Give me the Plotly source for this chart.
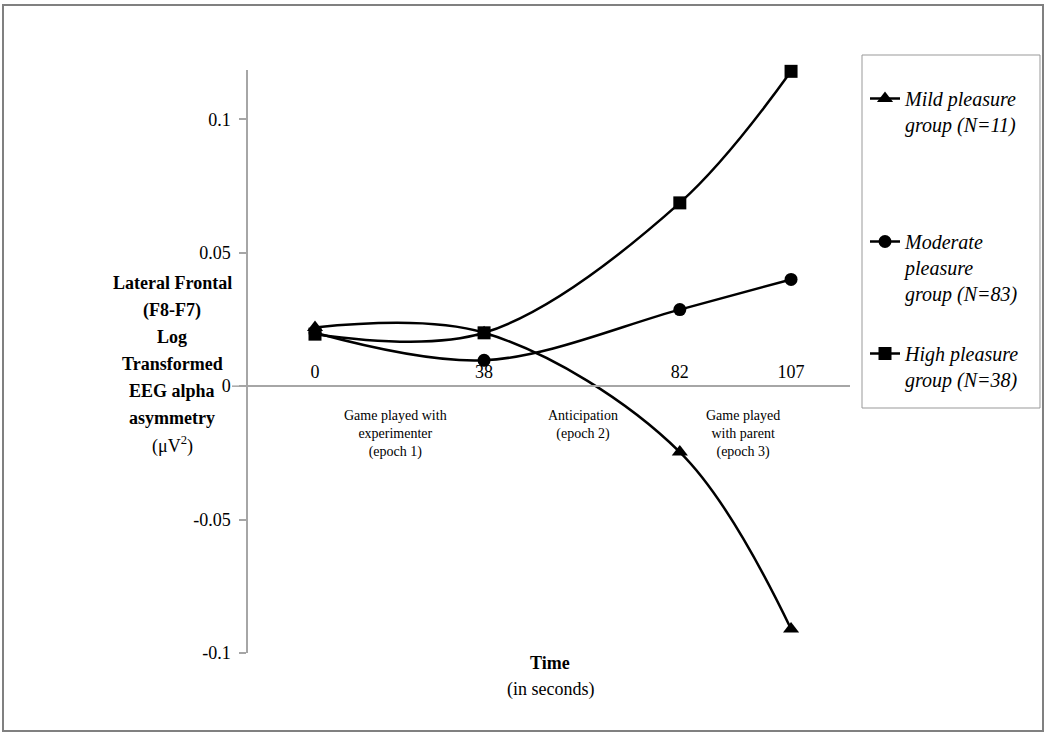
import plotly.graph_objects as go

# ---- data ----
times = [0, 38, 82, 107]
mild = [0.022, 0.020, -0.0247, -0.091]
moderate = [0.020, 0.0097, 0.0287, 0.040]
high = [0.0195, 0.020, 0.0687, 0.118]
series_names = ["Mild pleasure<br>group (N=11)",
                "Moderate<br>pleasure<br>group (N=83)",
                "High pleasure<br>group (N=38)"]
y_tickvals = [-0.1, -0.05, 0, 0.05, 0.1]
y_ticktext = ["-0.1", "-0.05", "0", "0.05", "0.1"]
epoch_labels = ["Game played with<br>experimenter<br>(epoch 1)",
                "Anticipation<br>(epoch 2)",
                "Game played<br>with parent<br>(epoch 3)"]
y_title_lines = ["<b>Lateral Frontal</b>", "<b>(F8-F7)</b>", "<b>Log</b>",
                 "<b>Transformed</b>", "<b>EEG alpha</b>", "<b>asymmetry</b>",
                 "(\u03bcV<sup>2</sup>)"]

FONT = "Liberation Serif"
W, H = 1050, 735
L, R, T, B = 248, 850, 70, 653  # plot area in pixels
Y_RANGE = [-0.1, 0.1185]


def px(xp):
    return (xp - L) / (R - L)


def py(yp):
    return (B - yp) / (B - T)


fig = go.Figure()
symbols = ["triangle-up", "circle", "square"]
sizes = [14, 13, 13]
legends = ["legend", "legend2", "legend3"]
for vals, name, sym, sz, lg in zip([mild, moderate, high], series_names, symbols, sizes, legends):
    fig.add_trace(go.Scatter(
        x=times, y=vals, name=name, mode="lines+markers",
        line=dict(color="black", width=2.5, shape="spline", smoothing=1),
        marker=dict(symbol=sym, size=sz, color="black"),
        cliponaxis=False, legend=lg))

leg_font = dict(family=FONT, size=20, color="black", style="italic")
leg_common = dict(xanchor="left", yanchor="top", bgcolor="rgba(0,0,0,0)",
                  borderwidth=0, valign="top", font=leg_font)
fig.update_layout(
    legend=dict(x=px(865), y=py(79), **leg_common),
    legend2=dict(x=px(865), y=py(222), **leg_common),
    legend3=dict(x=px(865), y=py(334), **leg_common),
)

fig.update_layout(
    width=W, height=H,
    margin=dict(l=L, r=W - R, t=T, b=H - B, pad=0),
    paper_bgcolor="white", plot_bgcolor="white",
    font=dict(family=FONT, size=18, color="black"),
    showlegend=True,
    xaxis=dict(range=[-15.06, 120.25], tickvals=times, ticktext=[str(t) for t in times],
               showgrid=False, zeroline=False, showline=True, linecolor="#a6a6a6", linewidth=1.5,
               ticks="", side="top", anchor="free", position=py(386),
               tickfont=dict(family=FONT, size=18, color="black")),
    yaxis=dict(range=Y_RANGE, tickvals=y_tickvals, ticktext=y_ticktext,
               showgrid=False, zeroline=False, showline=True, linecolor="#a6a6a6", linewidth=1.5,
               ticks="outside", ticklen=7, tickcolor="#a6a6a6", tickwidth=1.5,
               ticklabelstandoff=5,
               tickfont=dict(family=FONT, size=18, color="black")),
)

shapes = []
# x-axis line extension left of y-axis
shapes.append(dict(type="line", xref="paper", yref="y", x0=px(232), x1=0, y0=0, y1=0,
                   line=dict(color="#a6a6a6", width=1.5)))
# legend box
shapes.append(dict(type="rect", xref="paper", yref="paper", x0=px(862), x1=px(1040),
                   y0=py(408), y1=py(55), line=dict(color="#999999", width=1)))
# outer frame
shapes.append(dict(type="rect", xref="paper", yref="paper", x0=px(3), x1=px(1043),
                   y0=py(731), y1=py(5), line=dict(color="#808080", width=2)))
fig.update_layout(shapes=shapes)

ann = []
for txt, xc in zip(epoch_labels, [395, 583, 743]):
    ann.append(dict(text=txt, xref="paper", yref="paper", x=px(xc), y=py(406),
                    xanchor="center", yanchor="top", showarrow=False, align="center",
                    font=dict(family=FONT, size=14, color="black")))
for i, line in enumerate(y_title_lines):
    ann.append(dict(text=line, xref="paper", yref="paper", x=px(172), y=py(283 + 27 * i),
                    xanchor="center", yanchor="middle", showarrow=False,
                    font=dict(family=FONT, size=18, color="black")))
ann.append(dict(text="<b>Time</b>", xref="paper", yref="paper", x=px(550), y=py(663),
                xanchor="center", yanchor="middle", showarrow=False,
                font=dict(family=FONT, size=18, color="black")))
ann.append(dict(text="(in seconds)", xref="paper", yref="paper", x=px(550), y=py(689),
                xanchor="center", yanchor="middle", showarrow=False,
                font=dict(family=FONT, size=18, color="black")))
fig.update_layout(annotations=ann)

fig.write_html("out.html", post_script="document.body.style.margin='0px';",
               config={"displayModeBar": False})
